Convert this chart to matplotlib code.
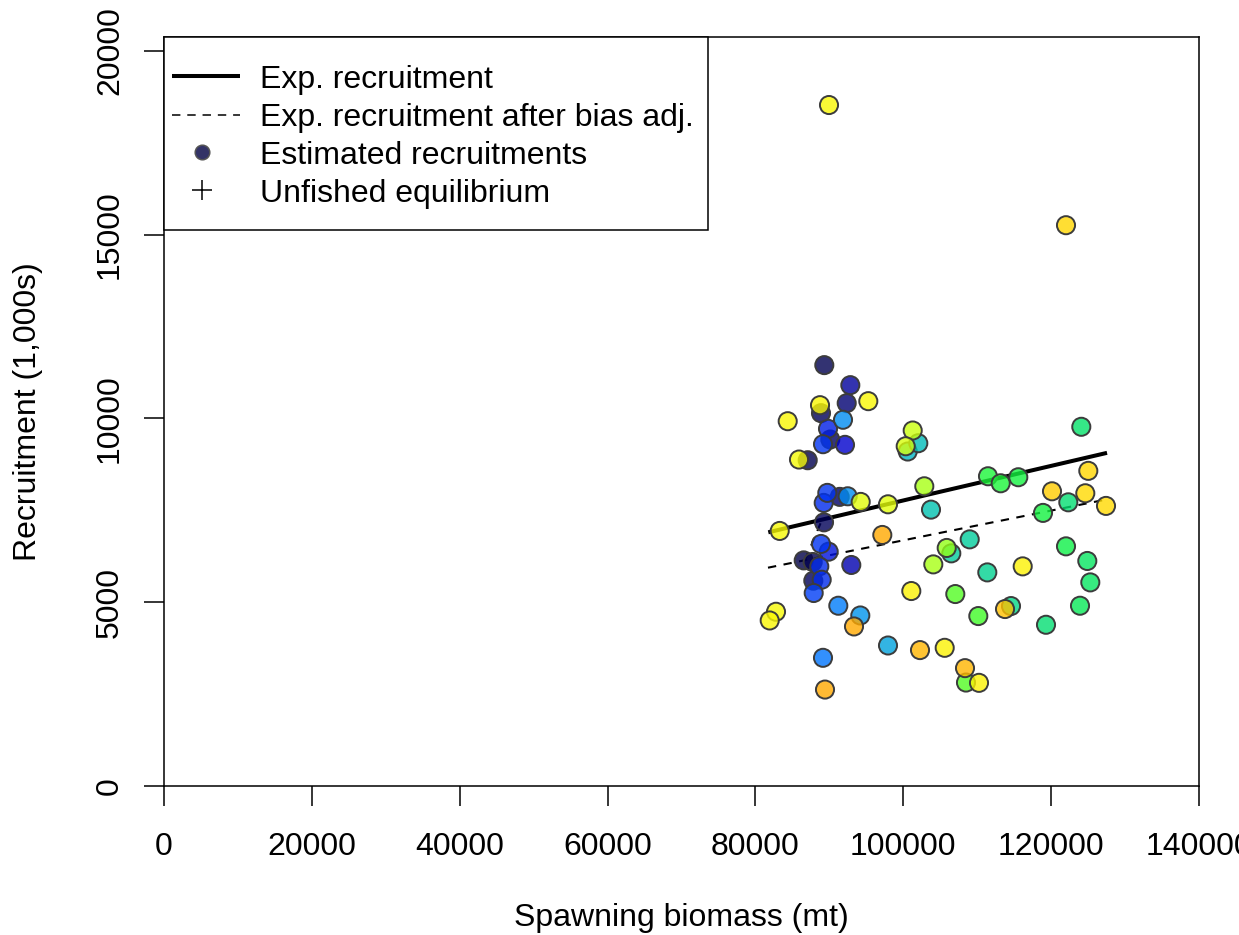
import numpy as np
import matplotlib.pyplot as plt
from matplotlib.patches import Rectangle

plt.rcParams['font.family'] = ['Liberation Sans', 'DejaVu Sans']

# estimated recruitments: spawning biomass (mt), recruitment (1,000s)
# and each point's place on the year colour ramp (0 = first year)
ssb = [89316, 92834, 88735, 88870, 92346, 95268, 84366, 91846, 89817, 90128,
       89140, 92116, 85894, 87071, 101274, 100327, 100598, 102031, 102843, 103749,
       89722, 89235, 91400, 92481, 94240, 97933, 89276, 83283, 97162, 88870,
       89911, 86530, 87747, 88640, 92968, 87828, 88964, 87882, 91210, 94186,
       93334, 82783, 81931, 89140, 89411, 97933, 102261, 105602, 101084, 104060,
       107036, 105873, 106495, 108348, 108483, 124080, 125026, 120116, 124620, 122321,
       127421, 118899, 111459, 113177, 115558, 108984, 111365, 116153, 122010, 124891,
       125297, 113759, 114570, 110147, 123904, 119305, 110242, 89952, 122010]
rec = [11452, 10907, 10362, 10145, 10417, 10471, 9926, 9965, 9719, 9428,
       9300, 9283, 8883, 8864, 9673, 9245, 9101, 9327, 8155, 7520,
       7976, 7703, 7867, 7883, 7730, 7665, 7174, 6940, 6831, 6586,
       6376, 6139, 6095, 5976, 6014, 5586, 5613, 5251, 4905, 4640,
       4341, 4741, 4504, 3488, 2624, 3823, 3698, 3760, 5305, 6030,
       5223, 6477, 6330, 3207, 2815, 9774, 8575, 8019, 7965, 7719,
       7621, 7431, 8428, 8237, 8401, 6711, 5812, 5976, 6521, 6123,
       5540, 4815, 4896, 4624, 4905, 4387, 2807, 18529, 15259]
yr_pos = [0.02, 0.10, 0.68, 0.03, 0.06, 0.68, 0.68, 0.30, 0.18, 0.04,
          0.20, 0.15, 0.66, 0.02, 0.61, 0.62, 0.36, 0.37, 0.59, 0.38,
          0.20, 0.19, 0.05, 0.30, 0.63, 0.63, 0.03, 0.67, 0.86, 0.20,
          0.17, 0.01, 0.02, 0.19, 0.12, 0.03, 0.19, 0.21, 0.28, 0.31,
          0.86, 0.67, 0.68, 0.27, 0.86, 0.33, 0.84, 0.70, 0.70, 0.59,
          0.55, 0.58, 0.40, 0.84, 0.55, 0.45, 0.78, 0.80, 0.77, 0.44,
          0.77, 0.50, 0.51, 0.51, 0.50, 0.40, 0.41, 0.70, 0.49, 0.46,
          0.46, 0.82, 0.42, 0.54, 0.47, 0.44, 0.70, 0.68, 0.78]

# expected recruitment curve and bias-adjusted curve
exp_ssb = [81740, 104650, 127560]
exp_rec = [6903, 7990, 9065]
adj_ssb = [81700, 104560, 127420]
adj_rec = [5940, 6870, 7794]
ramp_ssb = [86700, 89000]
ramp_rec = [6145, 7240]

legend_labels = ['Exp. recruitment', 'Exp. recruitment after bias adj.',
                 'Estimated recruitments', 'Unfished equilibrium']


def rich_colors_short(t, alpha=0.8):
    t = np.asarray(t)
    r = 1 / (1 + np.exp(20 - 35 * t))
    g = np.clip(-0.8 + 6 * t - 5 * t ** 2, 0, 1)
    b = np.exp(-0.5 * ((t - 0.25) / 0.15) ** 2)
    return np.column_stack([r, g, b, np.full(len(t), alpha)])


fig = plt.figure(figsize=(12.39, 9.35), dpi=100)
ax = fig.add_axes([164 / 1239, 149 / 935, 1035 / 1239, 749 / 935])

ax.plot(exp_ssb, exp_rec, color='black', lw=2.9, solid_capstyle='butt', zorder=2)
ax.plot(adj_ssb, adj_rec, color='black', lw=1.5, ls=(0, (4, 3.6)), zorder=2)
ax.plot(ramp_ssb, ramp_rec, color='black', lw=1.5, ls=(0, (4, 3.6)), zorder=2)

order = np.argsort(yr_pos, kind='stable')
cols = rich_colors_short(np.array(yr_pos)[order])
ax.scatter(np.array(ssb)[order], np.array(rec)[order], s=170, c=cols,
           edgecolors='#3c3c3c', linewidths=1.4, zorder=3)

ax.set_xlim(0, 140000)
ax.set_ylim(0, 20380)
ax.set_xticks(range(0, 140001, 20000))
ax.set_xticklabels([str(v) for v in range(0, 140001, 20000)])
ax.set_yticks(range(0, 20001, 5000))
ax.set_yticklabels([str(v) for v in range(0, 20001, 5000)])
ax.tick_params(axis='both', direction='out', length=14.4, width=1.1,
               labelsize=23, colors='black')
ax.tick_params(axis='x', pad=18.5)
ax.tick_params(axis='y', pad=13.7, labelrotation=90)
for lab in ax.get_yticklabels():
    lab.set_verticalalignment('center')
for sp in ax.spines.values():
    sp.set_linewidth(1.1)

ax.set_xlabel('Spawning biomass (mt)', fontsize=23)
ax.set_ylabel('Recruitment (1,000s)', fontsize=23)
ax.xaxis.set_label_coords(0.5, -0.1562)
ax.yaxis.set_label_coords(-0.1172, 0.5)

# legend drawn in the R style, flush with the top-left corner of the box
ax.add_patch(Rectangle((0, 0.7423), 0.5256, 0.2577, transform=ax.transAxes,
                       facecolor='white', edgecolor='black', lw=1.1,
                       zorder=5, clip_on=False))
row_y = [0.9473, 0.8965, 0.8458, 0.7951]
tr = ax.transAxes
ax.plot([0.0077, 0.0734], [row_y[0]] * 2, color='black', lw=2.9,
        transform=tr, zorder=6, solid_capstyle='butt')
ax.plot([0.0077, 0.0734], [row_y[1]] * 2, color='black', lw=1.1,
        ls=(0, (5.5, 4.5)), transform=tr, zorder=6)
ax.plot([0.0367], [row_y[2]], marker='o', ms=10.5, mfc=rich_colors_short([0.0])[0],
        mec='#555555', mew=1.1, transform=tr, zorder=6)
ax.plot([0.0367], [row_y[3]], marker='+', ms=14, mew=1.1, color='black',
        transform=tr, zorder=6)
for yy, lab in zip(row_y, legend_labels):
    ax.text(0.0928, yy - 0.0154, lab, transform=tr, fontsize=23,
            va='baseline', ha='left', zorder=6)

fig.savefig('out.png', dpi=100)
